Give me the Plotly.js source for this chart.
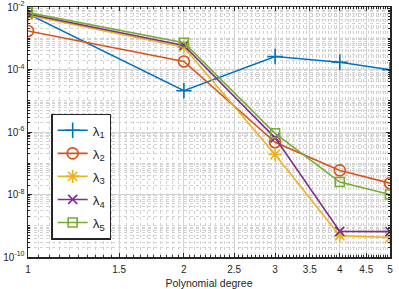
<!DOCTYPE html>
<html>
<head>
<meta charset="utf-8">
<script src="https://cdn.plot.ly/plotly-3.0.1.min.js"></script>
<style>html,body{margin:0;padding:0;background:#fff}#chart{width:399px;height:289px}</style>
</head>
<body>
<div id="chart"></div>
<script>
var degree = [1, 2, 3, 4, 5];
var lambda1 = [6.0e-3, 2.1e-5, 2.6e-4, 1.7e-4, 9.8e-5];
var lambda2 = [1.7e-3, 1.8e-4, 4.7e-7, 5.9e-8, 2.3e-8];
var lambda3 = [5.5e-3, 5.2e-4, 1.9e-7, 4.8e-10, 4.2e-10];
var lambda4 = [6.0e-3, 5.9e-4, 6.5e-7, 6.6e-10, 6.5e-10];
var lambda5 = [6.6e-3, 7.2e-4, 9.1e-7, 2.5e-8, 1.0e-8];
var seriesNames = ['λ<sub>1</sub>', 'λ<sub>2</sub>', 'λ<sub>3</sub>', 'λ<sub>4</sub>', 'λ<sub>5</sub>'];
var xTickVals = [1, 1.5, 2, 2.5, 3, 3.5, 4, 4.5, 5];
var xTickText = ['1', '1.5', '2', '2.5', '3', '3.5', '4', '4.5', '5'];
var yTickVals = [1e-10, 1e-8, 1e-6, 1e-4, 1e-2];

var colors = ['#0072BD', '#D95319', '#EDB120', '#7E2F8E', '#77AC30'];
var symbols = ['cross-thin-open', 'circle-open', 'asterisk-open', 'x-thin-open', 'square-open'];
var sizes = [11, 11, 11, 9, 9];
var allSeries = [lambda1, lambda2, lambda3, lambda4, lambda5];

var traces = allSeries.map(function (ys, i) {
  return {
    x: degree, y: ys, name: seriesNames[i], type: 'scatter', mode: 'lines+markers',
    legendgroup: 'g' + i,
    line: {color: colors[i], width: 1.6},
    marker: {symbol: symbols[i], size: sizes[i], color: colors[i], line: {color: colors[i], width: 1.6}}
  };
});

// minor grid positions
var xMinor = [];
for (var k = 20; k <= 100; k++) { var v = k / 20; if (xTickVals.indexOf(v) < 0) xMinor.push(v); }
var yMinor = [];
for (var e = -10; e < -2; e++) {
  for (var d = 1; d <= 9; d++) {
    var val = d * Math.pow(10, e);
    if (d === 1 && (e % 2 === 0)) continue;
    yMinor.push(val);
  }
}

var axisCommon = {
  showline: true, mirror: 'ticks', linecolor: '#262626', linewidth: 1.5,
  ticks: 'inside', ticklen: 4, tickcolor: '#262626', tickwidth: 1,
  gridcolor: '#d4d4d4', gridwidth: 1, zeroline: false,
  tickfont: {family: 'Liberation Sans, Arial, sans-serif', size: 10, color: '#262626'}
};

var layout = {
  width: 399, height: 289,
  margin: {l: 28, r: 9, t: 7, b: 32},
  paper_bgcolor: '#ffffff', plot_bgcolor: '#ffffff',
  showlegend: true,
  xaxis: Object.assign({}, axisCommon, {
    type: 'log', range: [0, Math.log10(5)], tickmode: 'array', tickvals: xTickVals, ticktext: xTickText,
    ticklabelstandoff: 2,
    title: {text: 'Polynomial degree', font: {family: 'Liberation Sans, Arial, sans-serif', size: 10.5, color: '#262626'}, standoff: 6},
    minor: {tickmode: 'array', tickvals: xMinor, showgrid: true, gridcolor: '#d2d2d2', griddash: 'dot', gridwidth: 1, ticks: 'inside', ticklen: 2, tickcolor: '#262626'}
  }),
  yaxis: Object.assign({}, axisCommon, {
    type: 'log', range: [-10, -2], tickmode: 'array', tickvals: yTickVals, exponentformat: 'power',
    ticktext: ['10<sup>-10</sup>', '10<sup>-8</sup>', '10<sup>-6</sup>', '10<sup>-4</sup>', '10<sup>-2</sup>'],
    minor: {tickmode: 'array', tickvals: yMinor, showgrid: true, gridcolor: '#d2d2d2', griddash: 'dot', gridwidth: 1, ticks: 'inside', ticklen: 2, tickcolor: '#262626'}
  }),
  legend: {
    x: 0.064, y: 0.574, xanchor: 'left', yanchor: 'top',
    bgcolor: '#ffffff', bordercolor: '#262626', borderwidth: 1.5,
    font: {family: 'Liberation Sans, Arial, sans-serif', size: 13.5, color: '#262626'},
    tracegroupgap: 2.5, itemwidth: 30
  }
};

Plotly.newPlot('chart', traces, layout, {displayModeBar: false, staticPlot: true});
</script>
</body>
</html>
